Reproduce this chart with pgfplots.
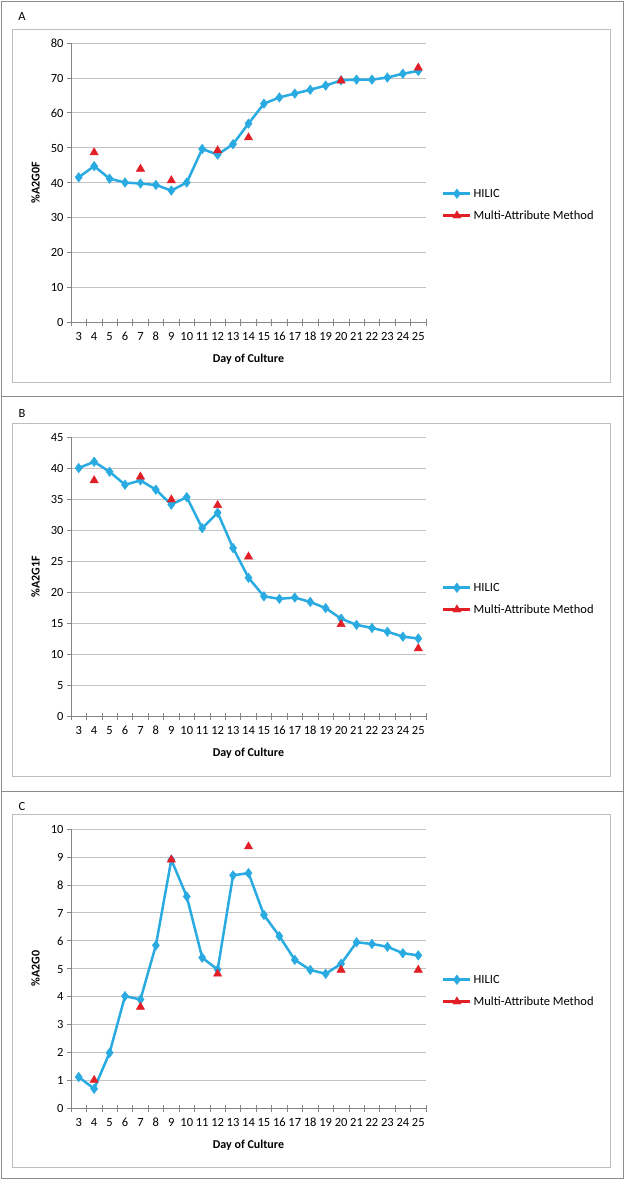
\documentclass[border=0pt]{standalone}
\usepackage{pgfplots}
\pgfplotsset{compat=1.18}
\usepackage{fontspec}
\setmainfont{Carlito}
\definecolor{hilic}{RGB}{41,171,226}
\definecolor{mam}{RGB}{226,30,38}
\definecolor{axgray}{RGB}{134,134,134}
\definecolor{gridgray}{RGB}{195,195,195}
\definecolor{outergray}{RGB}{140,140,140}
\definecolor{innergray}{RGB}{190,190,190}

\pgfplotsset{
  panel/.style={
    scale only axis, width=355pt, height=279pt,
    anchor=south west,
    xmin=2.5, xmax=25.5,
    xtick={3,...,25},
    major x tick style={draw=none},
    minor xtick={2.5,3.5,4.5,5.5,6.5,7.5,8.5,9.5,10.5,11.5,12.5,13.5,14.5,15.5,16.5,17.5,18.5,19.5,20.5,21.5,22.5,23.5,24.5,25.5},
    minor x tick style={axgray, line width=0.6pt},
    minor tick length=7pt,
    major tick length=4pt,
    axis x line*=bottom, axis y line*=left,
    axis line style={axgray, line width=0.7pt, -},
    y tick style={axgray, line width=0.6pt},
    xtick align=center,
    ytick align=outside,
    ymajorgrids, grid style={gridgray, line width=0.6pt},
    tick label style={font=\fontsize{12.5}{14}\selectfont},
    /pgf/number format/assume math mode=true,
    xticklabel style={yshift=-4pt, inner xsep=0pt, text height=9pt, text depth=0pt},
    yticklabel style={text height=9pt, text depth=0pt},
    ylabel style={at={(axis description cs:-0.1,0.5)}, anchor=center, font=\bfseries\fontsize{12}{14}\selectfont},
    xlabel style={at={(axis description cs:0.5,-0.1326)}, anchor=center, font=\bfseries\fontsize{12}{14}\selectfont},
    xlabel={Day of Culture},
    legend style={at={(1.045,0.42)}, anchor=west, draw=none, fill=none,
      font=\fontsize{12.5}{14}\selectfont, row sep=8pt, inner sep=0pt},
    legend cell align=left,
    legend image code/.code={\draw[mark repeat=2,mark phase=2] plot coordinates {(0pt,0pt) (13.5pt,0pt) (27pt,0pt)};},
  },
  hil/.style={hilic, line width=2.5pt, mark=diamond*, mark size=4.8pt, mark options={solid, line width=0.4pt}},
  mamst/.style={mam, line width=2.5pt, mark=triangle*, mark size=4.8pt, mark options={solid, line width=0.4pt}},
}

\begin{document}
\begin{tikzpicture}
\useasboundingbox (0,0) rectangle (624pt,-1179pt);
\fill[white] (0,0) rectangle (624pt,-1179pt);
% outer borders
\draw[outergray, line width=1pt] (1pt,-1pt) rectangle (623pt,-396pt);
\draw[outergray, line width=1pt] (1pt,-396pt) rectangle (623pt,-791pt);
\draw[outergray, line width=1pt] (1pt,-791pt) rectangle (623pt,-1178pt);
% inner boxes
\draw[innergray, line width=0.8pt] (12pt,-29pt) rectangle (610pt,-382pt);
\draw[innergray, line width=0.8pt] (12pt,-423pt) rectangle (610pt,-776pt);
\draw[innergray, line width=0.8pt] (12pt,-814pt) rectangle (610pt,-1167pt);
% panel letters
\node[font=\fontsize{12.5}{14}\selectfont] at (22pt,-16pt) {A};
\node[font=\fontsize{12.5}{14}\selectfont] at (22pt,-413pt) {B};
\node[font=\fontsize{12.5}{14}\selectfont] at (22pt,-806pt) {C};

% Panel A
\begin{axis}[panel, at={(71pt,-322pt)}, ymin=0, ymax=80, ytick={0,10,...,80}, ylabel={\%A2G0F}]
\addplot[hil] coordinates {(3,41.5) (4,44.7) (5,41.1) (6,40.0) (7,39.7) (8,39.3) (9,37.7) (10,40.0) (11,49.6) (12,48.0) (13,51.0) (14,56.9) (15,62.6) (16,64.4) (17,65.5) (18,66.6) (19,67.8) (20,69.3) (21,69.5) (22,69.5) (23,70.1) (24,71.2) (25,72.0)};
\addlegendentry{HILIC}
\addplot[mamst, only marks, forget plot] coordinates {(4,48.6) (7,43.9) (9,40.6) (12,49.2) (14,52.9) (20,69.2) (25,72.9)};
\addlegendimage{mamst}
\addlegendentry{Multi-Attribute Method}
\end{axis}

% Panel B
\begin{axis}[panel, at={(71pt,-716pt)}, ymin=0, ymax=45, ytick={0,5,...,45}, ylabel={\%A2G1F}]
\addplot[hil] coordinates {(3,40.0) (4,41.0) (5,39.4) (6,37.3) (7,38.0) (8,36.5) (9,34.1) (10,35.3) (11,30.3) (12,32.8) (13,27.1) (14,22.3) (15,19.3) (16,18.9) (17,19.1) (18,18.4) (19,17.4) (20,15.7) (21,14.7) (22,14.2) (23,13.6) (24,12.8) (25,12.5)};
\addlegendentry{HILIC}
\addplot[mamst, only marks, forget plot] coordinates {(4,38.0) (7,38.6) (9,34.9) (12,34.0) (14,25.7) (20,14.8) (25,10.9)};
\addlegendimage{mamst}
\addlegendentry{Multi-Attribute Method}
\end{axis}

% Panel C
\begin{axis}[panel, at={(71pt,-1108pt)}, ymin=0, ymax=10, ytick={0,1,...,10}, ylabel={\%A2G0}]
\addplot[hil] coordinates {(3,1.11) (4,0.69) (5,1.98) (6,4.01) (7,3.89) (8,5.83) (9,8.90) (10,7.58) (11,5.39) (12,4.96) (13,8.34) (14,8.42) (15,6.92) (16,6.16) (17,5.31) (18,4.95) (19,4.81) (20,5.17) (21,5.94) (22,5.88) (23,5.78) (24,5.55) (25,5.47)};
\addlegendentry{HILIC}
\addplot[mamst, only marks, forget plot] coordinates {(4,1.0) (7,3.62) (9,8.9) (12,4.81) (14,9.37) (20,4.95) (25,4.95)};
\addlegendimage{mamst}
\addlegendentry{Multi-Attribute Method}
\end{axis}
\end{tikzpicture}
\end{document}
